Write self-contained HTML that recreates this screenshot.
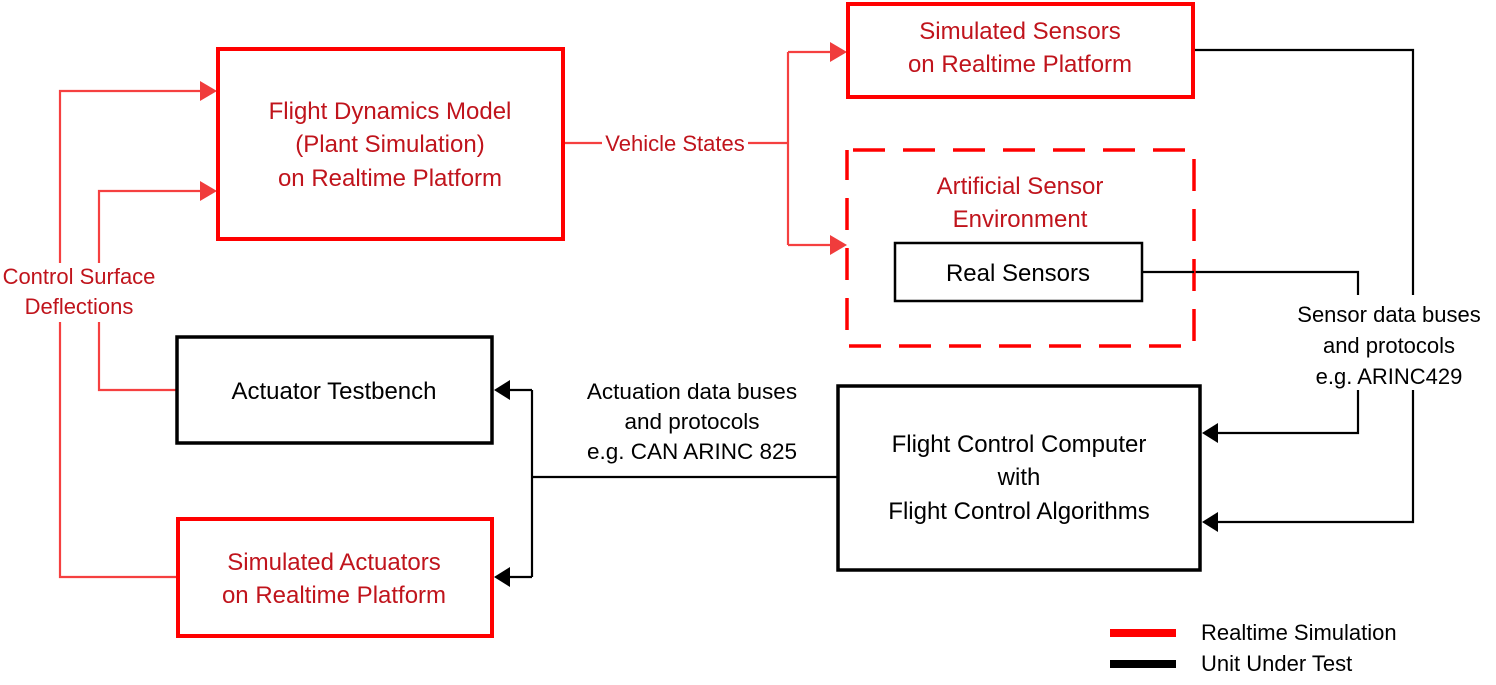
<!DOCTYPE html>
<html><head><meta charset="utf-8"><style>
html,body{margin:0;padding:0;background:#fff;}
svg{display:block;}
text{font-family:"Liberation Sans",sans-serif;font-size:24px;text-anchor:middle;}
text.s{font-size:22.5px;}
text.t{font-size:22px;}
.r{fill:#c0141c;}
.k{fill:#000;}
</style></head><body>
<svg width="1496" height="685" viewBox="0 0 1496 685" xmlns="http://www.w3.org/2000/svg">
<!-- red connectors -->
<g stroke="#f54040" stroke-width="2.2" fill="none">
<path d="M564,143 H602 M748,143 H788 M788,52 V245 M788,52 H830 M788,245 H830"/>
<path d="M60,263 V91 H200 M99,263 V191 H200"/>
<path d="M60,322 V577 H177 M99,322 V390 H177"/>
</g>
<g fill="#f03c3c">
<path d="M830,42 L847,52 L830,62z"/><path d="M830,235 L847,245 L830,255z"/>
<path d="M200,81 L217,91 L200,101z"/><path d="M200,181 L217,191 L200,201z"/>
</g>
<!-- black connectors -->
<g stroke="#000" stroke-width="2.2" fill="none">
<path d="M1193,50 H1413 V295 M1413,390 V522 H1218"/>
<path d="M1142,272 H1358 V295 M1358,390 V433 H1218"/>
<path d="M838,477 H532 M532,390 V577 M532,390 H508 M532,577 H508"/>
</g>
<g fill="#000">
<path d="M1218,423 L1202,433 L1218,443z"/><path d="M1218,512 L1202,522 L1218,532z"/>
<path d="M510,380 L494,390 L510,400z"/><path d="M510,567 L494,577 L510,587z"/>
</g>
<!-- boxes -->
<g fill="#fff">
<rect x="218" y="49" width="345" height="190" stroke="#ff0000" stroke-width="4"/>
<rect x="848" y="4" width="345" height="93" stroke="#ff0000" stroke-width="4"/>
<rect x="847" y="150" width="347" height="196" stroke="#ff0000" stroke-width="3.5" stroke-dasharray="32,18" stroke-dashoffset="-6"/>
<rect x="895" y="243" width="247" height="58" stroke="#000" stroke-width="2.5"/>
<rect x="177" y="337" width="315" height="106" stroke="#000" stroke-width="3.5"/>
<rect x="178" y="519" width="314" height="117" stroke="#ff0000" stroke-width="4"/>
<rect x="838" y="386" width="362" height="184" stroke="#000" stroke-width="3.5"/>
</g>
<line x1="1142" y1="272" x2="1194" y2="272" stroke="#000" stroke-width="2.2"/>
<!-- texts -->
<text class="r" x="390" y="119">Flight Dynamics Model</text>
<text class="r" x="390" y="152">(Plant Simulation)</text>
<text class="r" x="390" y="186">on Realtime Platform</text>
<text class="r" x="675" y="151" style="font-size:22px">Vehicle States</text>
<text class="r" x="1020" y="39">Simulated Sensors</text>
<text class="r" x="1020" y="72">on Realtime Platform</text>
<text class="r" x="1020" y="194">Artificial Sensor</text>
<text class="r" x="1020" y="227">Environment</text>
<text class="k" x="1018" y="281">Real Sensors</text>
<text class="r" x="79" y="284" style="font-size:22px">Control Surface</text>
<text class="r" x="79" y="314" style="font-size:22px">Deflections</text>
<text class="k" x="334" y="399">Actuator Testbench</text>
<text class="r" x="334" y="570">Simulated Actuators</text>
<text class="r" x="334" y="603">on Realtime Platform</text>
<text class="k" x="1019" y="452">Flight Control Computer</text>
<text class="k" x="1019" y="485">with</text>
<text class="k" x="1019" y="519">Flight Control Algorithms</text>
<text class="k s" x="692" y="399">Actuation data buses</text>
<text class="k s" x="692" y="429">and protocols</text>
<text class="k s" x="692" y="459">e.g. CAN ARINC 825</text>
<text class="k t" x="1389" y="322">Sensor data buses</text>
<text class="k t" x="1389" y="353">and protocols</text>
<text class="k t" x="1389" y="384">e.g. ARINC429</text>
<text class="k t" x="1201" y="640" style="text-anchor:start">Realtime Simulation</text>
<text class="k t" x="1201" y="671" style="text-anchor:start">Unit Under Test</text>
<rect x="1110" y="629" width="66" height="8" fill="#ff0000"/>
<rect x="1110" y="660" width="66" height="8" fill="#000"/>
</svg>
</body></html>
